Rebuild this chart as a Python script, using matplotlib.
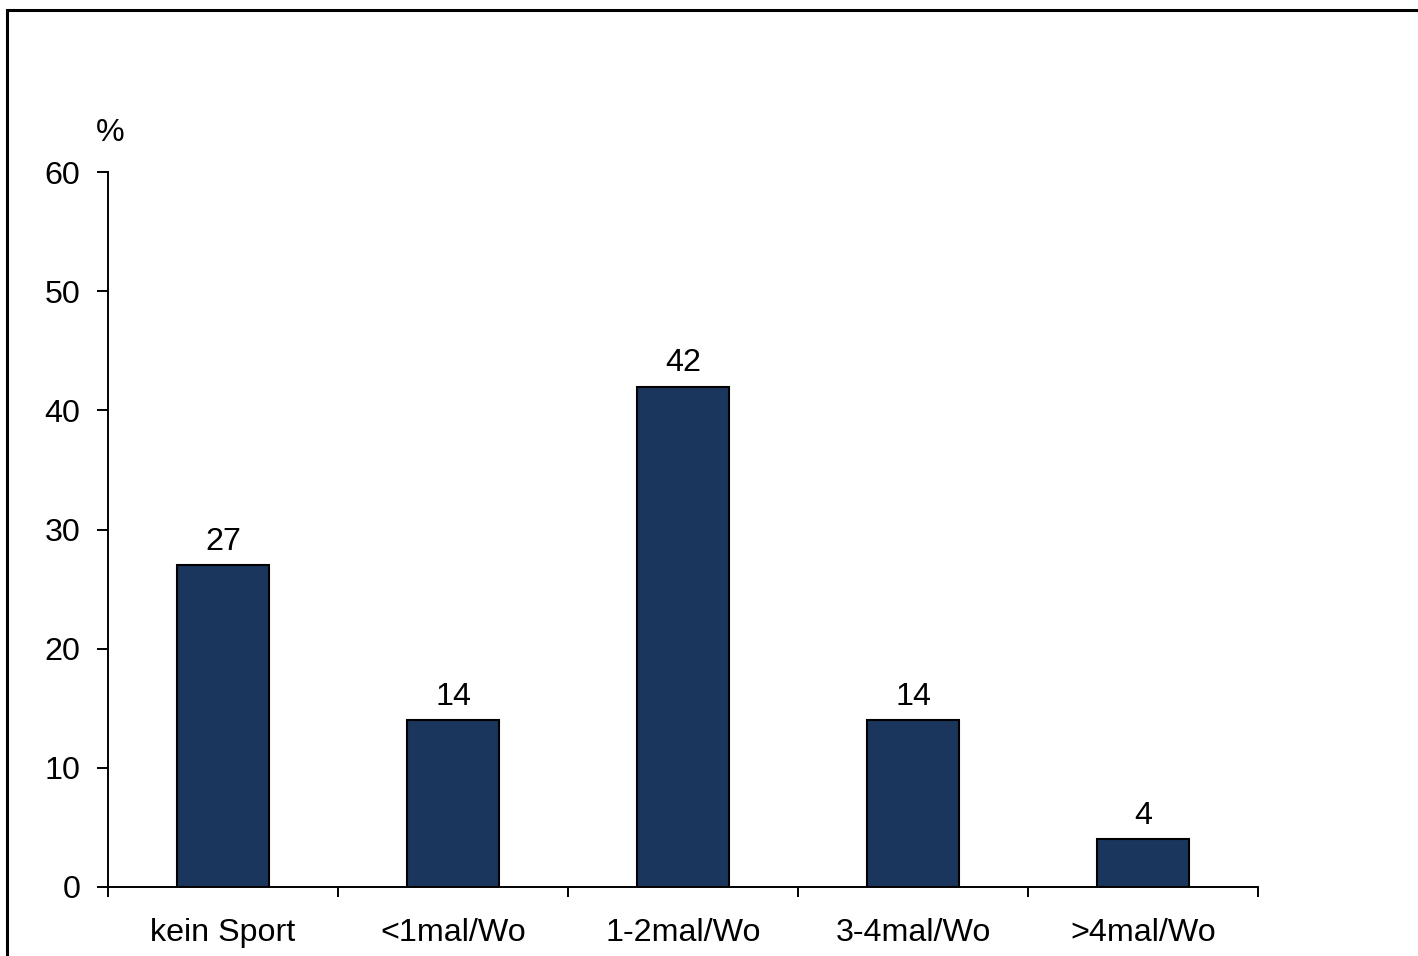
import matplotlib.pyplot as plt
from matplotlib.patches import Rectangle
import numpy as np

kategorien = ["kein Sport", "<1mal/Wo", "1-2mal/Wo", "3-4mal/Wo", ">4mal/Wo"]
werte = [27, 14, 42, 14, 4]

plt.rcParams["font.family"] = ["Liberation Sans", "DejaVu Sans"]
plt.rcParams["font.size"] = 23.2

fig = plt.figure(figsize=(14.18, 9.56), dpi=100)

# Rahmen um die Grafik (rechts und unten abgeschnitten)
fig.patches.append(Rectangle((7 / 1418, -0.05), 1.2, 1 - 10 / 956 + 0.05,
                             transform=fig.transFigure, fill=False,
                             edgecolor="black", linewidth=2.2))

ax = fig.add_axes([108 / 1418, 69 / 956, 1150 / 1418, 715 / 956])
x = np.arange(len(kategorien))
ax.bar(x, werte, width=0.4, color="#1B365D", edgecolor="black", linewidth=1.5)

for xi, v in zip(x, werte):
    ax.annotate(str(v), (xi, v), xytext=(0, 11), textcoords="offset points",
                ha="center", va="baseline")

ax.set_xlim(-0.5, len(kategorien) - 0.5)
ax.set_ylim(0, 60)
ax.set_yticks(range(0, 61, 10))
ax.set_xticks(np.arange(-0.5, len(kategorien)))
ax.set_xticklabels([])
ax.set_xticks(x, minor=True)
ax.set_xticklabels(kategorien, minor=True)
ax.tick_params(axis="x", which="major", direction="out", length=7.5, width=1.4)
ax.tick_params(axis="x", which="minor", length=0, pad=22)
ax.tick_params(axis="y", direction="out", length=8, width=1.4, pad=12)

ax.spines["top"].set_visible(False)
ax.spines["right"].set_visible(False)
ax.spines["left"].set_linewidth(1.4)
ax.spines["bottom"].set_linewidth(1.4)

ax.text(0.002, 1.055, "%", transform=ax.transAxes, ha="center", va="center")

plt.savefig("out.png", dpi=100)
